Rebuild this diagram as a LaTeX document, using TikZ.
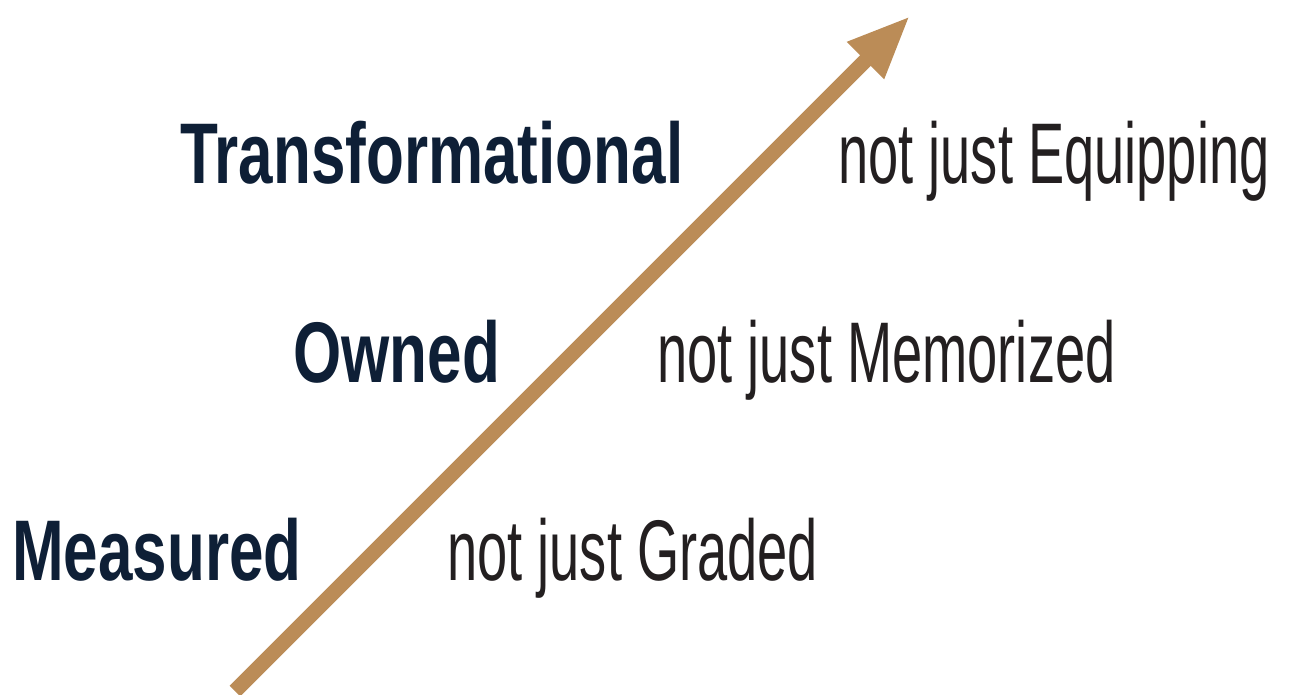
\documentclass[tikz,border=0pt]{standalone}
\usepackage{fontspec}
\usetikzlibrary{arrows.meta}
\newfontfamily\boldcond[FakeStretch=0.72]{Liberation Sans Bold}
\newfontfamily\lightcond[FakeStretch=0.63]{Liberation Sans}
\definecolor{navy}{HTML}{0E1F36}
\definecolor{ink}{HTML}{231F20}
\definecolor{tan}{HTML}{BB8C57}

\begin{document}
\begin{tikzpicture}[x=0.02cm,y=-0.02cm,
        strong/.style={anchor=base west,inner sep=0pt,text=navy,font=\boldcond\fontsize{49}{49}\selectfont},
        weak/.style={anchor=base west,inner sep=0pt,text=ink,font=\lightcond\fontsize{49}{49}\selectfont},
        growth/.style={draw=tan,line width=0.3cm,-{Triangle[length=1.26cm,width=0.96cm]}}]
        \useasboundingbox (0,0) rectangle (1289,694);
        % the rising arrow
        \coordinate (start) at (235,691);
        \coordinate (tip)   at (910,16);
        \draw[growth] (start) -- (tip);
        % left column
        \node[strong] (trans) at (180,183) {Transformational};
        \node[strong] (owned) at (293,382) {Owned};
        \node[strong] (meas)  at (12,580)  {Measured};
        % right column
        \node[weak] (equip) at (838,183) {not just Equipping};
        \node[weak] (memo)  at (657,382) {not just Memorized};
        \node[weak] (grade) at (447,580) {not just Graded};
\end{tikzpicture}
\end{document}
